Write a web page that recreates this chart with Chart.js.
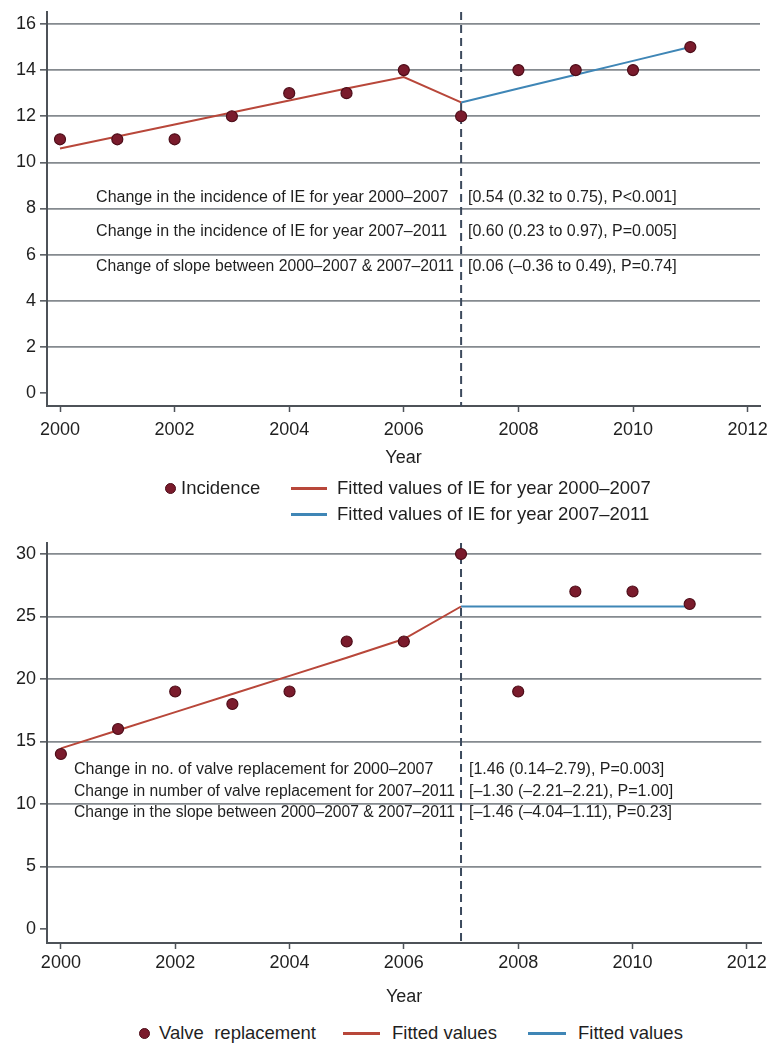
<!DOCTYPE html>
<html>
<head>
<meta charset="utf-8">
<script src="https://cdn.jsdelivr.net/npm/chart.js@4/dist/chart.umd.min.js"></script>
<style>
  html, body { margin: 0; padding: 0; background: #fff; }
  body { width: 768px; height: 1043px; position: relative; overflow: hidden;
         font-family: "Liberation Sans", Arial, Helvetica, sans-serif; color: #1f1f1f; }
  .panel { position: absolute; left: 0; }
  .lg { position: absolute; font-size: 18.5px; line-height: 22px; white-space: pre; color: #1f1f1f; }
  .dot { position: absolute; width: 11px; height: 11px; border-radius: 50%;
         background: #7a1b2c; box-sizing: border-box; border: 1px solid #4d0d19; }
  .sw { position: absolute; height: 2.5px; }
</style>
</head>
<body>
<div class="panel" style="top:0;"><canvas id="ieChart" width="768" height="470"></canvas></div>
<div class="panel" style="top:520px;"><canvas id="valveChart" width="768" height="490"></canvas></div>

<!-- legend: incidence chart -->
<div class="dot" style="left:165px; top:483px;"></div>
<div class="lg" style="left:181px; top:477px;">Incidence</div>
<div class="sw" style="left:291px; top:487px; width:36px; background:#b8473a;"></div>
<div class="lg" style="left:337px; top:477px;">Fitted values of IE for year 2000–2007</div>
<div class="sw" style="left:291px; top:513px; width:36px; background:#3f86b6;"></div>
<div class="lg" style="left:337px; top:503px;">Fitted values of IE for year 2007–2011</div>

<!-- legend: valve replacement chart -->
<div class="dot" style="left:139px; top:1028px;"></div>
<div class="lg" style="left:159px; top:1022px;">Valve  replacement</div>
<div class="sw" style="left:343px; top:1032px; width:37px; background:#b8473a;"></div>
<div class="lg" style="left:392px; top:1022px;">Fitted values</div>
<div class="sw" style="left:528px; top:1032px; width:38px; background:#3f86b6;"></div>
<div class="lg" style="left:578px; top:1022px;">Fitted values</div>

<script>
// ---- data ----
const years = [2000, 2001, 2002, 2003, 2004, 2005, 2006, 2007, 2008, 2009, 2010, 2011];
const breakYear = 2007;

const incidence = [11, 11, 11, 12, 13, 13, 14, 12, 14, 14, 14, 15];
const ieFitYearsA = [2000, 2001, 2002, 2003, 2004, 2005, 2006, 2007];
const ieFitA = [10.6, 11.12, 11.64, 12.16, 12.68, 13.2, 13.7, 12.6];
const ieFitYearsB = [2007, 2008, 2009, 2010, 2011];
const ieFitB = [12.6, 13.2, 13.8, 14.4, 15.0];

const valveReplacement = [14, 16, 19, 18, 19, 23, 23, 30, 19, 27, 27, 26];
const valveFitYearsA = [2000, 2001, 2002, 2003, 2004, 2005, 2006, 2007];
const valveFitA = [14.45, 15.9, 17.35, 18.8, 20.25, 21.7, 23.2, 25.8];
const valveFitYearsB = [2007, 2008, 2009, 2010, 2011];
const valveFitB = [25.8, 25.8, 25.8, 25.8, 25.8];

const ieNotes = [
  "Change in the incidence of IE for year 2000–2007",
  "Change in the incidence of IE for year 2007–2011",
  "Change of slope between 2000–2007 & 2007–2011"
];
const ieStats = [
  "[0.54 (0.32 to 0.75), P<0.001]",
  "[0.60 (0.23 to 0.97), P=0.005]",
  "[0.06 (–0.36 to 0.49), P=0.74]"
];
const valveNotes = [
  "Change in no. of valve replacement for 2000–2007",
  "Change in number of valve replacement for 2007–2011",
  "Change in the slope between 2000–2007 & 2007–2011"
];
const valveStats = [
  "[1.46 (0.14–2.79), P=0.003]",
  "[–1.30 (–2.21–2.21), P=1.00]",
  "[–1.46 (–4.04–1.11), P=0.23]"
];

// ---- styling ----
const FONT = '"Liberation Sans", Arial, Helvetica, sans-serif';
const POINT_FILL = '#7a1b2c';
const POINT_EDGE = '#4d0d19';
const RED = '#b8473a';
const BLUE = '#3f86b6';
const GRID = '#858a8f';
const AXIS = '#4d5258';
const TEXT = '#1f1f1f';

const pairs = (xs, ys) => xs.map((x, i) => ({ x: x, y: ys[i] }));

// vertical dashed reference line at the break year
const breakLine = {
  id: 'breakLine',
  beforeDatasetsDraw(chart) {
    const { ctx, chartArea, scales } = chart;
    const x = scales.x.getPixelForValue(breakYear);
    ctx.save();
    ctx.strokeStyle = '#3c4a5d';
    ctx.lineWidth = 2;
    ctx.setLineDash([8, 5]);
    ctx.beginPath();
    ctx.moveTo(x, chartArea.top);
    ctx.lineTo(x, chartArea.bottom);
    ctx.stroke();
    ctx.restore();
  }
};

// regression summary text placed in data coordinates
const notesPlugin = {
  id: 'notes',
  afterDatasetsDraw(chart, args, opts) {
    const { ctx, scales } = chart;
    ctx.save();
    ctx.font = opts.size + 'px ' + FONT;
    ctx.fillStyle = TEXT;
    ctx.textBaseline = 'middle';
    ctx.textAlign = 'left';
    opts.rows.forEach((yv, i) => {
      const y = scales.y.getPixelForValue(yv);
      const x0 = scales.x.getPixelForValue(opts.xLeft);
      const x1 = scales.x.getPixelForValue(opts.xRight);
      // left-hand label is squeezed so it ends before the break line
      ctx.fillText(opts.left[i], x0, y, x1 - x0 - 14);
      ctx.fillText(opts.right[i], x1, y);
    });
    ctx.restore();
  }
};

function makeChart(id, cfg) {
  return new Chart(document.getElementById(id), {
    type: 'line',
    data: {
      datasets: [
        { label: cfg.pointLabel, data: pairs(years, cfg.points), showLine: false,
          pointRadius: 5.5, pointBackgroundColor: POINT_FILL, pointBorderColor: POINT_EDGE,
          pointBorderWidth: 1.2, order: 0 },
        { label: cfg.fitLabelA, data: pairs(cfg.fitYearsA, cfg.fitA), borderColor: RED,
          borderWidth: 2, pointRadius: 0, tension: 0, order: 1 },
        { label: cfg.fitLabelB, data: pairs(cfg.fitYearsB, cfg.fitB), borderColor: BLUE,
          borderWidth: 2, pointRadius: 0, tension: 0, order: 1 }
      ]
    },
    options: {
      responsive: false,
      animation: false,
      events: [],
      layout: { padding: { top: cfg.padTop, right: cfg.padRight, left: 0, bottom: 0 } },
      plugins: {
        legend: { display: false },
        tooltip: { enabled: false },
        notes: cfg.notes
      },
      scales: {
        x: {
          type: 'linear',
          min: cfg.xMin, max: cfg.xMax,
          afterFit(s) { s.height = cfg.xHeight; s.paddingLeft = 0; s.paddingRight = 0; },
          border: { display: true, color: AXIS, width: 2 },
          grid: { drawOnChartArea: false, drawTicks: true, tickLength: 6, tickWidth: 1.5, tickColor: AXIS },
          ticks: { stepSize: 2, includeBounds: false, padding: cfg.xTickPad, color: TEXT,
                   font: { family: FONT, size: 18 }, maxRotation: 0, autoSkip: false,
                   callback: v => String(v) },
          title: { display: true, text: 'Year', color: TEXT, font: { family: FONT, size: 18 },
                   padding: { top: 0, bottom: cfg.titlePad } }
        },
        y: {
          type: 'linear',
          min: cfg.yMin, max: cfg.yMax,
          afterFit(s) { s.width = 47; s.paddingTop = 0; s.paddingBottom = 0; },
          border: { display: true, color: AXIS, width: 2 },
          grid: {
            drawOnChartArea: true, drawTicks: true, tickLength: 7, tickWidth: 1.5, tickColor: AXIS,
            lineWidth: 1.7,
            color: c => (c.tick && c.tick.value === 0) ? 'rgba(0,0,0,0)' : GRID
          },
          ticks: { stepSize: cfg.yStep, includeBounds: false, padding: 4, color: TEXT,
                   font: { family: FONT, size: 18 }, callback: v => String(v) }
        }
      }
    },
    plugins: [breakLine, notesPlugin]
  });
}

makeChart('ieChart', {
  pointLabel: 'Incidence',
  fitLabelA: 'Fitted values of IE for year 2000–2007',
  fitLabelB: 'Fitted values of IE for year 2007–2011',
  points: incidence, fitYearsA: ieFitYearsA, fitA: ieFitA, fitYearsB: ieFitYearsB, fitB: ieFitB,
  xMin: 1999.773, xMax: 2012.216, yMin: -0.564, yMax: 16.52, yStep: 2,
  padTop: 12, padRight: 8, xHeight: 64, xTickPad: 7, titlePad: 1,
  notes: { size: 16, xLeft: 2000.63, xRight: 2007.12, rows: [8.46, 6.98, 5.46],
           left: ieNotes, right: ieStats }
});

makeChart('valveChart', {
  pointLabel: 'Valve replacement',
  fitLabelA: 'Fitted values',
  fitLabelB: 'Fitted values',
  points: valveReplacement, fitYearsA: valveFitYearsA, fitA: valveFitA, fitYearsB: valveFitYearsB, fitB: valveFitB,
  xMin: 1999.757, xMax: 2012.253, yMin: -1.12, yMax: 30.88, yStep: 5,
  padTop: 23, padRight: 0, xHeight: 67, xTickPad: 3, titlePad: 2,
  notes: { size: 16, xLeft: 2000.23, xRight: 2007.14, rows: [12.76, 11.0, 9.3],
           left: valveNotes, right: valveStats }
});
</script>
</body>
</html>
